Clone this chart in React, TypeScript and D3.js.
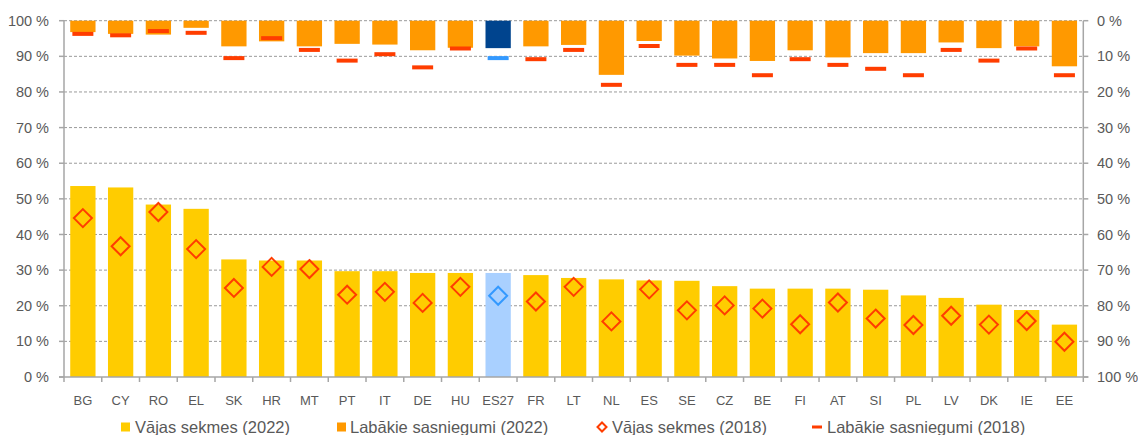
import React from "react";
import * as d3 from "d3";

const categories = ["BG","CY","RO","EL","SK","HR","MT","PT","IT","DE","HU","ES27","FR","LT","NL","ES","SE","CZ","BE","FI","AT","SI","PL","LV","DK","IE","EE"];
const low2022 = [53.6, 53.2, 48.4, 47.2, 33.0, 32.7, 32.7, 29.7, 29.7, 29.2, 29.2, 29.2, 28.6, 27.8, 27.4, 27.1, 27.0, 25.5, 24.8, 24.8, 24.8, 24.5, 22.9, 22.2, 20.3, 18.8, 14.7];
const low2018 = [44.6, 36.7, 46.3, 35.9, 25.0, 30.9, 30.3, 23.1, 23.9, 20.8, 25.3, 22.8, 21.2, 25.3, 15.6, 24.6, 18.7, 20.1, 19.2, 14.8, 20.9, 16.4, 14.6, 17.2, 14.7, 15.7, 9.9];
const top2022 = [3.2, 3.7, 3.9, 2.0, 7.2, 5.8, 7.2, 6.5, 6.7, 8.3, 7.6, 7.7, 7.2, 6.8, 15.2, 5.7, 9.8, 10.6, 11.3, 8.3, 10.3, 9.1, 9.1, 6.1, 7.7, 7.2, 12.8];
const top2018 = [3.7, 4.1, 2.9, 3.4, 10.5, 4.9, 8.2, 11.2, 9.4, 13.1, 7.8, 10.5, 10.8, 8.2, 18.0, 7.1, 12.4, 12.4, 15.3, 10.8, 12.4, 13.5, 15.3, 8.2, 11.2, 7.8, 15.3];
const leftTicks = [0, 10, 20, 30, 40, 50, 60, 70, 80, 90, 100];
const legendLabels = ["Vājas sekmes (2022)", "Labākie sasniegumi (2022)", "Vājas sekmes (2018)", "Labākie sasniegumi (2018)"];
const highlight = "ES27";

const W = 1138, H = 435;
const FONT = "'Liberation Sans', Arial, sans-serif";
const TXT = "#595959";
const C = {
  yellow: "#FFCC00", orange: "#FF9900", red: "#FF3D00",
  lightBlue: "#A9D0FF", darkBlue: "#00448E", blue: "#3399FF",
  grid: "#9A9A9A", axis: "#A6A6A6",
};

export default function App() {
  const x = d3.scaleBand<string>().domain(categories).range([64, 1083.3]).paddingInner(0.33).paddingOuter(0.165);
  const yL = d3.scaleLinear().domain([0, 100]).range([377, 20.7]);
  const yR = d3.scaleLinear().domain([0, 100]).range([20.7, 377]);
  const bw = x.bandwidth();
  const step = x.step();
  const gap = (step - bw) / 2;
  const boundaries = categories.map((c) => (x(c) as number) - gap).concat([(x(categories[categories.length - 1]) as number) + bw + gap]);
  const x0 = 64, x1 = 1083.3;
  const dashW = 21, dashH = 4, dm = 9;
  const legendX = [121, 337, 602, 817];
  const legendTextX = [135, 350, 612, 827];
  const legY = 427;

  return (
    <svg width={W} height={H} style={{ position: "absolute", left: 0, top: 0 }} fontFamily={FONT}>
      <rect width={W} height={H} fill="#fff" />
      {leftTicks.filter((t) => t > 0).map((t) => (
        <line key={"g" + t} x1={x0} x2={x1} y1={yL(t)} y2={yL(t)} stroke={C.grid} strokeWidth={1} strokeDasharray="3,2" />
      ))}
      {categories.map((c, i) => (
        <rect key={"lb" + c} x={x(c)} y={yL(low2022[i])} width={bw} height={yL(0) - yL(low2022[i])}
          fill={c === highlight ? C.lightBlue : C.yellow} />
      ))}
      {categories.map((c, i) => (
        <rect key={"tb" + c} x={x(c)} y={yR(0)} width={bw} height={yR(top2022[i]) - yR(0)}
          fill={c === highlight ? C.darkBlue : C.orange} />
      ))}
      {categories.map((c, i) => (
        <rect key={"td" + c} x={(x(c) as number) + bw / 2 - dashW / 2} y={yR(top2018[i]) - dashH / 2} width={dashW} height={dashH}
          fill={c === highlight ? C.blue : C.red} />
      ))}
      {categories.map((c, i) => {
        const cx = (x(c) as number) + bw / 2;
        const cy = yL(low2018[i]);
        return (
          <path key={"d" + c} d={`M${cx},${cy - dm}L${cx + dm},${cy}L${cx},${cy + dm}L${cx - dm},${cy}Z`}
            fill="none" stroke={c === highlight ? C.blue : C.red} strokeWidth={2} />
        );
      })}
      <line x1={x0} x2={x0} y1={yL(100)} y2={yL(0)} stroke={C.axis} strokeWidth={1.5} />
      <line x1={x1} x2={x1} y1={yL(100)} y2={yL(0)} stroke={C.axis} strokeWidth={1.5} />
      <line x1={x0 - 5} x2={x1 + 5} y1={yL(0)} y2={yL(0)} stroke={C.axis} strokeWidth={1.5} />
      {leftTicks.map((t) => (
        <g key={"lt" + t}>
          <line x1={x0 - 5} x2={x0} y1={yL(t)} y2={yL(t)} stroke={C.axis} strokeWidth={1.5} />
          <text x={49} y={yL(t)} dy="0.35em" textAnchor="end" fontSize={14.5} fill={TXT}>{t} %</text>
          <line x1={x1} x2={x1 + 5} y1={yR(t)} y2={yR(t)} stroke={C.axis} strokeWidth={1.5} />
          <text x={1097} y={yR(t)} dy="0.35em" textAnchor="start" fontSize={14.5} fill={TXT}>{t} %</text>
        </g>
      ))}
      {boundaries.map((b, i) => (
        <line key={"xt" + i} x1={b} x2={b} y1={yL(0)} y2={yL(0) + 5} stroke={C.axis} strokeWidth={1.5} />
      ))}
      {categories.map((c) => (
        <text key={"xl" + c} x={(x(c) as number) + bw / 2} y={405} textAnchor="middle" fontSize={13} fill={TXT}>{c}</text>
      ))}
      <rect x={legendX[0]} y={legY - 4.5} width={9} height={9} fill={C.yellow} />
      <rect x={legendX[1]} y={legY - 4.5} width={9} height={9} fill={C.orange} />
      <path d={`M${legendX[2]},${legY - 4.5}L${legendX[2] + 4.5},${legY}L${legendX[2]},${legY + 4.5}L${legendX[2] - 4.5},${legY}Z`} fill="none" stroke={C.red} strokeWidth={2} />
      <rect x={legendX[3] - 5} y={legY - 1.5} width={10} height={3} fill={C.red} />
      {legendLabels.map((l, i) => (
        <text key={"lg" + i} x={legendTextX[i]} y={legY} dy="0.35em" fontSize={16.5} fill={TXT}>{l}</text>
      ))}
    </svg>
  );
}
